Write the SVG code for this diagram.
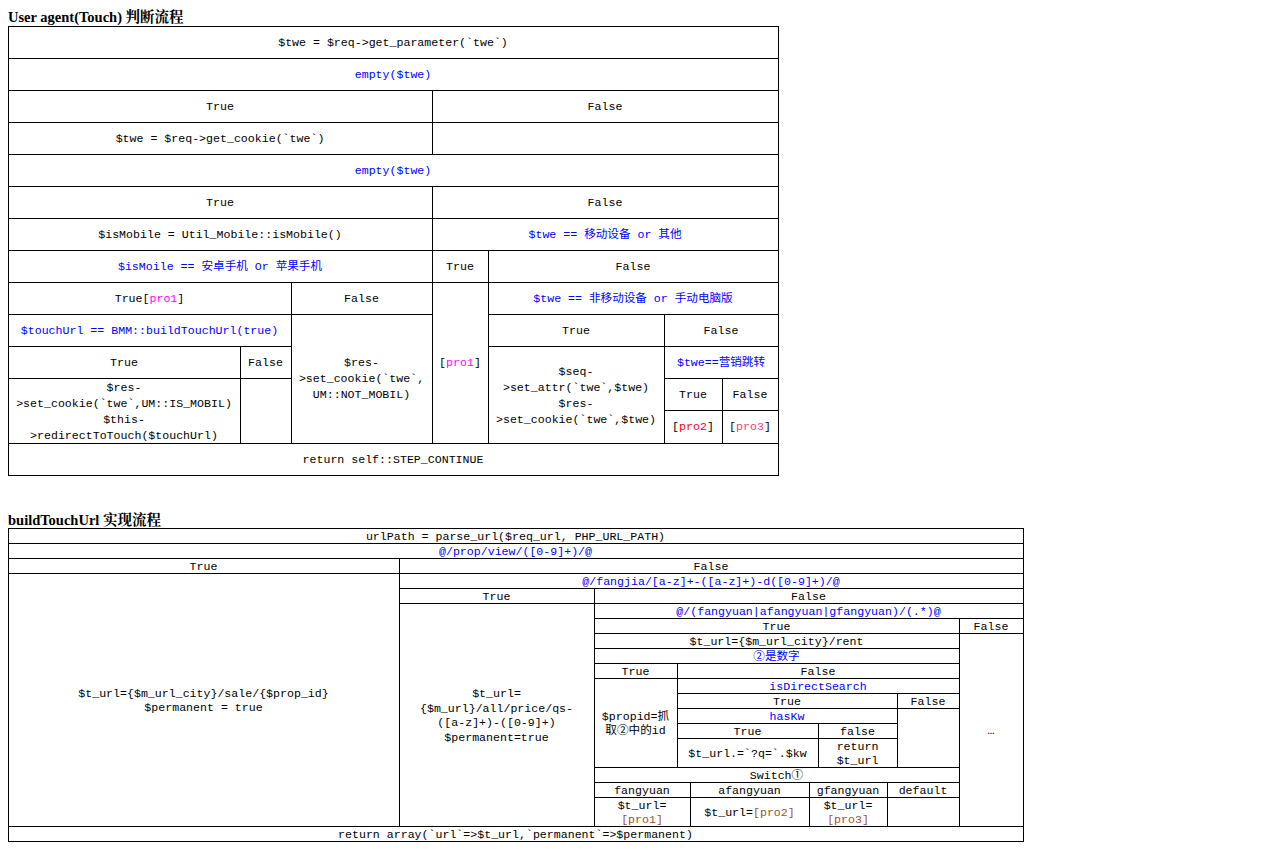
<svg xmlns="http://www.w3.org/2000/svg" width="1263" height="867" viewBox="0 0 1263 867">
<style>
.c{fill:#fff;stroke:#000;stroke-width:1}
text{font-family:'Liberation Mono','Noto Sans CJK SC',monospace;font-size:11.6px;fill:#000;text-anchor:middle}
.b{fill:#0000ff}.m{fill:#ff00ff}.r{fill:#ff0000}.p{fill:#ee3f6f}.o{fill:#a0522d}
text.h{font-family:'Liberation Serif','Noto Serif CJK SC','Noto Sans CJK SC',serif;font-size:14.5px;font-weight:bold;text-anchor:start}
</style>
<rect width="1263" height="867" fill="#fff"/>
<text class="h" x="8" y="22">User agent(Touch) 判断流程</text>
<g id="top-table">
<g id="t1"><rect class="c" x="8.5" y="26.5" width="770" height="32"/><text x="393" y="45.5">$twe = $req-&gt;get_parameter(`twe`)</text></g>
<g id="t2"><rect class="c" x="8.5" y="58.5" width="770" height="32"/><text class="b" x="393" y="77.5">empty($twe)</text></g>
<g id="t3"><rect class="c" x="8.5" y="90.5" width="424" height="32"/><text x="220" y="109.5">True</text></g>
<g id="t4"><rect class="c" x="432.5" y="90.5" width="346" height="32"/><text x="605" y="109.5">False</text></g>
<g id="t5"><rect class="c" x="8.5" y="122.5" width="424" height="32"/><text x="220" y="141.5">$twe = $req-&gt;get_cookie(`twe`)</text></g>
<g id="t6"><rect class="c" x="432.5" y="122.5" width="346" height="32"/></g>
<g id="t7"><rect class="c" x="8.5" y="154.5" width="770" height="32"/><text class="b" x="393" y="173.5">empty($twe)</text></g>
<g id="t8"><rect class="c" x="8.5" y="186.5" width="424" height="32"/><text x="220" y="205.5">True</text></g>
<g id="t9"><rect class="c" x="432.5" y="186.5" width="346" height="32"/><text x="605" y="205.5">False</text></g>
<g id="t10"><rect class="c" x="8.5" y="218.5" width="424" height="32"/><text x="220" y="237.5">$isMobile = Util_Mobile::isMobile()</text></g>
<g id="t11"><rect class="c" x="432.5" y="218.5" width="346" height="32"/><text class="b" x="605" y="237.5">$twe == 移动设备 or 其他</text></g>
<g id="t12"><rect class="c" x="8.5" y="250.5" width="424" height="32"/><text class="b" x="220" y="269.5">$isMoile == 安卓手机 Or 苹果手机</text></g>
<g id="t13"><rect class="c" x="432.5" y="250.5" width="56" height="32"/><text x="460" y="269.5">True</text></g>
<g id="t14"><rect class="c" x="488.5" y="250.5" width="290" height="32"/><text x="633" y="269.5">False</text></g>
<g id="t15"><rect class="c" x="8.5" y="282.5" width="283" height="32"/><text x="149.5" y="301.5">True[<tspan class="m">pro1</tspan>]</text></g>
<g id="t16"><rect class="c" x="291.5" y="282.5" width="141" height="32"/><text x="361.5" y="301.5">False</text></g>
<g id="t17"><rect class="c" x="432.5" y="282.5" width="56" height="161"/><text x="460" y="366">[<tspan class="m">pro1</tspan>]</text></g>
<g id="t18"><rect class="c" x="488.5" y="282.5" width="290" height="32"/><text class="b" x="633" y="301.5">$twe == 非移动设备 or 手动电脑版</text></g>
<g id="t19"><rect class="c" x="8.5" y="314.5" width="283" height="32"/><text class="b" x="149.5" y="333.5">$touchUrl == BMM::buildTouchUrl(true)</text></g>
<g id="t20"><rect class="c" x="291.5" y="314.5" width="141" height="129"/><text x="361.5" y="366">$res-</text><text x="361.5" y="382">&gt;set_cookie(`twe`,</text><text x="361.5" y="398">UM::NOT_MOBIL)</text></g>
<g id="t21"><rect class="c" x="488.5" y="314.5" width="176" height="32"/><text x="576" y="333.5">True</text></g>
<g id="t22"><rect class="c" x="664.5" y="314.5" width="114" height="32"/><text x="721" y="333.5">False</text></g>
<g id="t23"><rect class="c" x="8.5" y="346.5" width="232" height="32"/><text x="124" y="365.5">True</text></g>
<g id="t24"><rect class="c" x="240.5" y="346.5" width="51" height="32"/><text x="265.5" y="365.5">False</text></g>
<g id="t25"><rect class="c" x="488.5" y="346.5" width="176" height="97"/><text x="576" y="375">$seq-</text><text x="576" y="391">&gt;set_attr(`twe`,$twe)</text><text x="576" y="407">$res-</text><text x="576" y="423">&gt;set_cookie(`twe`,$twe)</text></g>
<g id="t26"><rect class="c" x="664.5" y="346.5" width="114" height="32"/><text class="b" x="721" y="365.5">$twe==营销跳转</text></g>
<g id="t27"><rect class="c" x="8.5" y="378.5" width="232" height="65"/><text x="124" y="390.5">$res-</text><text x="124" y="406.5">&gt;set_cookie(`twe`,UM::IS_MOBIL)</text><text x="124" y="422.5">$this-</text><text x="124" y="438.5">&gt;redirectToTouch($touchUrl)</text></g>
<g id="t28"><rect class="c" x="240.5" y="378.5" width="51" height="65"/></g>
<g id="t29"><rect class="c" x="664.5" y="378.5" width="58" height="32"/><text x="693" y="397.5">True</text></g>
<g id="t30"><rect class="c" x="722.5" y="378.5" width="56" height="32"/><text x="750" y="397.5">False</text></g>
<g id="t31"><rect class="c" x="664.5" y="410.5" width="58" height="33"/><text x="693" y="430">[<tspan class="r">pro2</tspan>]</text></g>
<g id="t32"><rect class="c" x="722.5" y="410.5" width="56" height="33"/><text x="750" y="430">[<tspan class="p">pro3</tspan>]</text></g>
<g id="t33"><rect class="c" x="8.5" y="443.5" width="770" height="32"/><text x="393" y="462.5">return self::STEP_CONTINUE</text></g>
</g>
<text class="h" x="8" y="524.5">buildTouchUrl 实现流程</text>
<g id="bottom-table">
<g id="b1"><rect class="c" x="8.5" y="528.5" width="1015" height="15"/><text x="515.5" y="539.5">urlPath = parse_url($req_url, PHP_URL_PATH)</text></g>
<g id="b2"><rect class="c" x="8.5" y="543.5" width="1015" height="15"/><text class="b" x="515.5" y="554.5">@/prop/view/([0-9]+)/@</text></g>
<g id="b3"><rect class="c" x="8.5" y="558.5" width="391" height="15"/><text x="203.5" y="569.5">True</text></g>
<g id="b4"><rect class="c" x="399.5" y="558.5" width="624" height="15"/><text x="711" y="569.5">False</text></g>
<g id="b5"><rect class="c" x="8.5" y="573.5" width="391" height="253"/><text x="203.5" y="697">$t_url={$m_url_city}/sale/{$prop_id}</text><text x="203.5" y="711">$permanent = true</text></g>
<g id="b6"><rect class="c" x="399.5" y="573.5" width="624" height="15"/><text class="b" x="711" y="584.5">@/fangjia/[a-z]+-([a-z]+)-d([0-9]+)/@</text></g>
<g id="b7"><rect class="c" x="399.5" y="588.5" width="195" height="15"/><text x="496.5" y="599.5">True</text></g>
<g id="b8"><rect class="c" x="594.5" y="588.5" width="429" height="15"/><text x="808.5" y="599.5">False</text></g>
<g id="b9"><rect class="c" x="399.5" y="603.5" width="195" height="223"/><text x="496.5" y="697">$t_url=</text><text x="496.5" y="711.5">{$m_url}/all/price/qs-</text><text x="496.5" y="726">([a-z]+)-([0-9]+)</text><text x="496.5" y="740.5">$permanent=true</text></g>
<g id="b10"><rect class="c" x="594.5" y="603.5" width="429" height="15"/><text class="b" x="808.5" y="614.5">@/(fangyuan|afangyuan|gfangyuan)/(.*)@</text></g>
<g id="b11"><rect class="c" x="594.5" y="618.5" width="365" height="15"/><text x="776.5" y="629.5">True</text></g>
<g id="b12"><rect class="c" x="959.5" y="618.5" width="64" height="15"/><text x="991" y="629.5">False</text></g>
<g id="b13"><rect class="c" x="594.5" y="633.5" width="365" height="15"/><text x="776.5" y="644.5">$t_url={$m_url_city}/rent</text></g>
<g id="b14"><rect class="c" x="959.5" y="633.5" width="64" height="193"/><text x="991" y="734">…</text></g>
<g id="b15"><rect class="c" x="594.5" y="648.5" width="365" height="15"/><text class="b" x="776.5" y="659.5">②是数字</text></g>
<g id="b16"><rect class="c" x="594.5" y="663.5" width="83" height="15"/><text x="635.5" y="674.5">True</text></g>
<g id="b17"><rect class="c" x="677.5" y="663.5" width="282" height="15"/><text x="818" y="674.5">False</text></g>
<g id="b18"><rect class="c" x="594.5" y="678.5" width="83" height="89"/><text x="635.5" y="719.5">$propid=抓</text><text x="635.5" y="734">取②中的id</text></g>
<g id="b19"><rect class="c" x="677.5" y="678.5" width="282" height="15"/><text class="b" x="818" y="689.5">isDirectSearch</text></g>
<g id="b20"><rect class="c" x="677.5" y="693.5" width="220" height="15"/><text x="787" y="704.5">True</text></g>
<g id="b21"><rect class="c" x="897.5" y="693.5" width="62" height="15"/><text x="928" y="704.5">False</text></g>
<g id="b22"><rect class="c" x="677.5" y="708.5" width="220" height="15"/><text class="b" x="787" y="719.5">hasKw</text></g>
<g id="b23"><rect class="c" x="897.5" y="708.5" width="62" height="59"/></g>
<g id="b24"><rect class="c" x="677.5" y="723.5" width="141" height="15"/><text x="747.5" y="734.5">True</text></g>
<g id="b25"><rect class="c" x="818.5" y="723.5" width="79" height="15"/><text x="857.5" y="734.5">false</text></g>
<g id="b26"><rect class="c" x="677.5" y="738.5" width="141" height="29"/><text x="747.5" y="757">$t_url.=`?q=`.$kw</text></g>
<g id="b27"><rect class="c" x="818.5" y="738.5" width="79" height="29"/><text x="857.5" y="749.5">return</text><text x="857.5" y="763.5">$t_url</text></g>
<g id="b28"><rect class="c" x="594.5" y="767.5" width="365" height="15"/><text x="776.5" y="778.5">Switch①</text></g>
<g id="b29"><rect class="c" x="594.5" y="782.5" width="96" height="15"/><text x="642" y="793.5">fangyuan</text></g>
<g id="b30"><rect class="c" x="690.5" y="782.5" width="119" height="15"/><text x="749.5" y="793.5">afangyuan</text></g>
<g id="b31"><rect class="c" x="809.5" y="782.5" width="78" height="15"/><text x="848" y="793.5">gfangyuan</text></g>
<g id="b32"><rect class="c" x="887.5" y="782.5" width="72" height="15"/><text x="923" y="793.5">default</text></g>
<g id="b33"><rect class="c" x="594.5" y="797.5" width="96" height="29"/><text x="642" y="808.5">$t_url=</text><text class="o" x="642" y="823">[pro1]</text></g>
<g id="b34"><rect class="c" x="690.5" y="797.5" width="119" height="29"/><text x="749.5" y="816">$t_url=<tspan class="o">[pro2]</tspan></text></g>
<g id="b35"><rect class="c" x="809.5" y="797.5" width="78" height="29"/><text x="848" y="808.5">$t_url=</text><text class="o" x="848" y="823">[pro3]</text></g>
<g id="b36"><rect class="c" x="887.5" y="797.5" width="72" height="29"/></g>
<g id="b37"><rect class="c" x="8.5" y="826.5" width="1015" height="15"/><text x="515.5" y="837.5">return array(`url`=&gt;$t_url,`permanent`=&gt;$permanent)</text></g>
</g>
</svg>
